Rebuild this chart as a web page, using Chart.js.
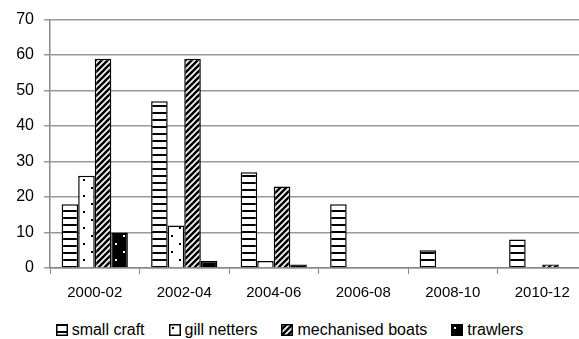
<!DOCTYPE html>
<html>
<head>
<meta charset="utf-8">
<script src="https://cdn.jsdelivr.net/npm/chart.js@4"></script>
<style>
  html, body { margin: 0; padding: 0; background: #fff; overflow: hidden; }
  #wrap { width: 590px; height: 312px; }
  #legend { position: absolute; left: 0; top: 320px; width: 579px; display: flex; justify-content: center;
    font-family: 'Liberation Sans', Arial, sans-serif; font-size: 16px; color: #000; line-height: 20px; }
  #legend span.item { display: flex; align-items: center; margin: 0 12px; }
  #legend canvas { margin-right: 4px; }
</style>
</head>
<body>
<div id="wrap"><canvas id="myChart"></canvas></div>
<div id="legend"></div>
<script>
const periods = ['2000-02', '2002-04', '2004-06', '2006-08', '2008-10', '2010-12'];
const smallCraft = [18, 47, 27, 18, 5, 8];
const gillNetters = [26, 12, 2, 0, 0, 0];
const mechanisedBoats = [59, 59, 23, 0, 0, 1];
const trawlers = [10, 2, 1, 0, 0, 0];

function tileCanvas(w, h, draw) {
  const c = document.createElement('canvas');
  c.width = w; c.height = h;
  draw(c.getContext('2d'));
  return c;
}
function tile(w, h, draw) {
  return document.createElement('canvas').getContext('2d').createPattern(tileCanvas(w, h, draw), 'repeat');
}

const hLines = tile(8, 7, g => {
  g.fillStyle = '#fff'; g.fillRect(0, 0, 8, 7);
  g.fillStyle = '#000'; g.fillRect(0, 0, 8, 2);
});
const dotsWhite = tile(16, 16, g => {
  g.fillStyle = '#fff'; g.fillRect(0, 0, 16, 16);
  g.fillStyle = '#000';
  g.fillRect(3, 3, 2, 2); g.fillRect(11, 11, 2, 2);
});
const diag = tile(6, 6, g => {
  g.fillStyle = '#fff'; g.fillRect(0, 0, 6, 6);
  g.strokeStyle = '#000'; g.lineWidth = 2.6;
  g.beginPath();
  g.moveTo(-1, 7); g.lineTo(7, -1);
  g.moveTo(-4, 4); g.lineTo(4, -4);
  g.moveTo(2, 10); g.lineTo(10, 2);
  g.stroke();
});
const dotsBlack = tile(16, 16, g => {
  g.fillStyle = '#000'; g.fillRect(0, 0, 16, 16);
  g.fillStyle = '#fff';
  g.fillRect(3, 3, 2, 2); g.fillRect(11, 11, 2, 2);
});

const family = 'Liberation Sans, Arial, sans-serif';

const chart = new Chart(document.getElementById('myChart'), {
  type: 'bar',
  data: {
    labels: periods,
    datasets: [
      { label: 'small craft', data: smallCraft, backgroundColor: hLines },
      { label: 'gill netters', data: gillNetters, backgroundColor: dotsWhite },
      { label: 'mechanised boats', data: mechanisedBoats, backgroundColor: diag },
      { label: 'trawlers', data: trawlers, backgroundColor: dotsBlack }
    ].map(d => Object.assign(d, {
      borderColor: '#000', borderWidth: 1.5,
      barPercentage: 1, categoryPercentage: 0.74
    }))
  },
  options: {
    responsive: true,
    maintainAspectRatio: false,
    animation: false,
    layout: { padding: { top: 19, right: 3, left: 0, bottom: 0 } },
    plugins: {
      tooltip: { enabled: false },
      legend: { display: false }
    },
    scales: {
      x: {
        grid: { offset: true, drawOnChartArea: false, color: '#888', tickLength: 6 },
        border: { color: '#888', width: 1.5 },
        ticks: { color: '#000', font: { family: family, size: 15 }, padding: 10, maxRotation: 0 },
        afterFit: s => { s.height = 44; }
      },
      y: {
        min: 0, max: 70,
        ticks: { stepSize: 10, color: '#000', font: { family: family, size: 16 }, padding: 10 },
        grid: { color: '#999', lineWidth: 1.5, tickLength: 6 },
        border: { color: '#888', width: 1.5 },
        afterFit: s => { s.width = 50; }
      }
    }
  }
});

// legend built from the chart's datasets
const legend = document.getElementById('legend');
chart.data.datasets.forEach(ds => {
  const item = document.createElement('span');
  item.className = 'item';
  const sw = document.createElement('canvas');
  sw.width = 12; sw.height = 12;
  const g = sw.getContext('2d');
  g.fillStyle = ds.backgroundColor; g.fillRect(0, 0, 12, 12);
  g.strokeStyle = '#000'; g.lineWidth = 1.5; g.strokeRect(0.75, 0.75, 10.5, 10.5);
  item.appendChild(sw);
  item.appendChild(document.createTextNode(ds.label));
  legend.appendChild(item);
});
</script>
</body>
</html>
